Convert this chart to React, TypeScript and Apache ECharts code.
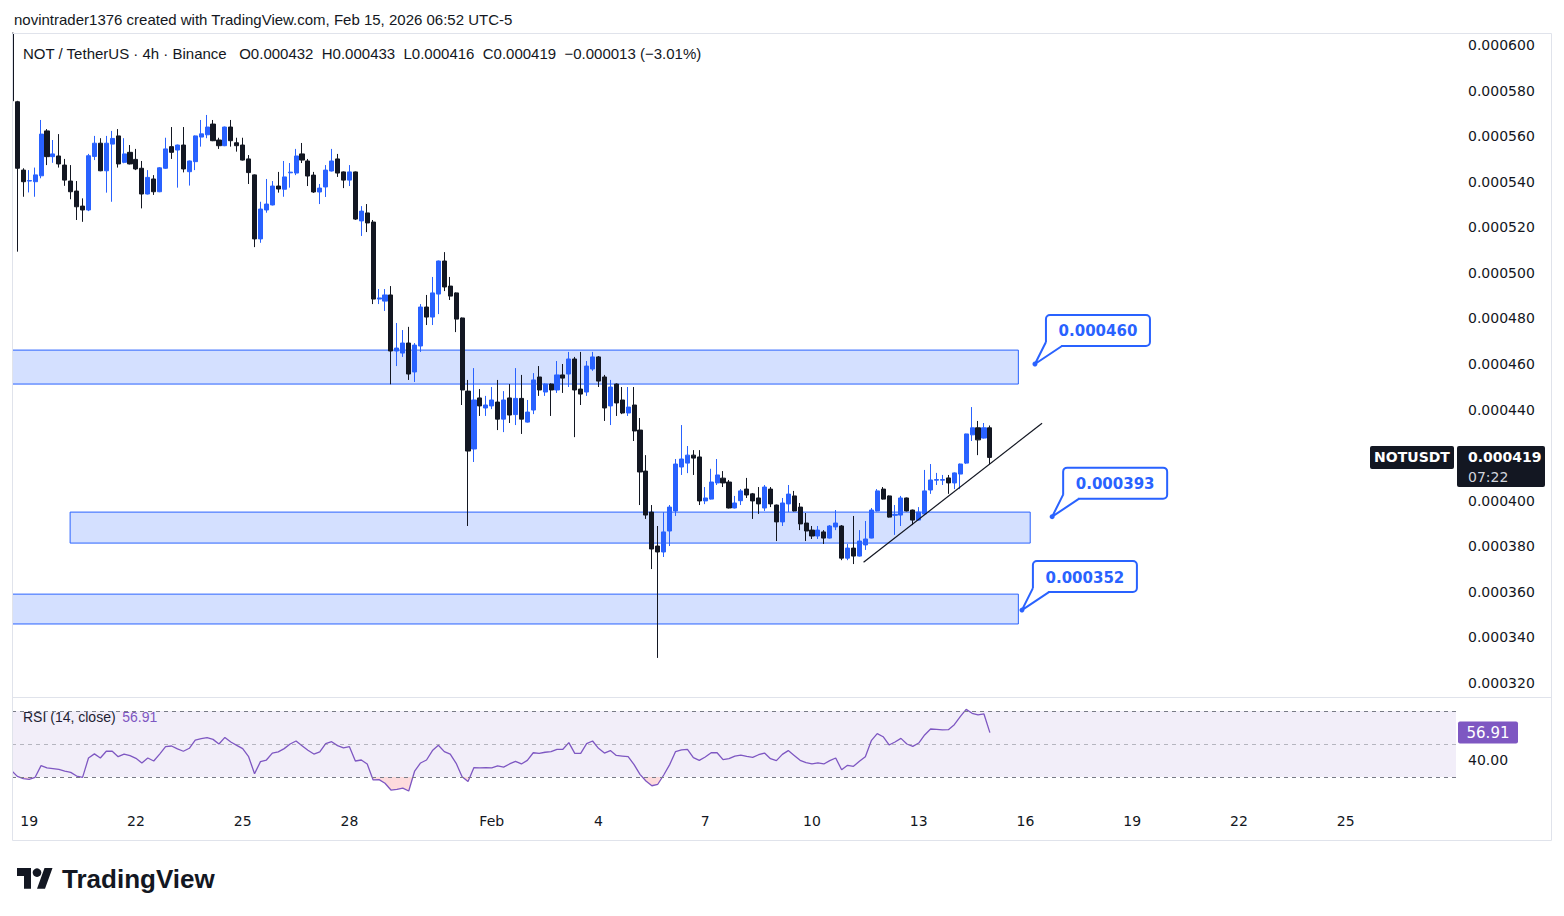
import React, { useEffect, useRef } from "react";
import * as echarts from "echarts";

// NOT / TetherUS, 4h bars (Binance). Prices are in millionths of USDT.
const barOpen = [
  605.2, 575.1, 545.1, 540.3, 540.0, 542.6, 562.3, 551.0, 551.3, 547.3,
  540.3, 535.9, 529.3, 527.6, 551.1, 556.9, 544.8, 556.5, 560.1, 548.5,
  552.9, 549.8, 545.9, 534.6, 541.2, 535.6, 545.9, 555.4, 553.9, 556.1,
  544.4, 548.8, 559.6, 560.6, 565.3, 558.3, 555.8, 564.0, 557.1, 556.1,
  550.0, 543.0, 514.9, 527.6, 529.8, 538.1, 536.7, 543.9, 543.8, 552.2,
  549.1, 542.9, 535.5, 537.7, 544.7, 550.0, 544.3, 540.7, 544.3, 522.8,
  526.3, 522.3, 488.5, 487.6, 490.3, 465.7, 464.8, 469.2, 456.5, 467.9,
  485.0, 480.6, 490.7, 505.2, 494.2, 491.2, 480.2, 448.1, 422.7, 445.1,
  440.7, 441.6, 443.3, 435.8, 445.1, 437.8, 444.9, 434.5, 439.8, 454.3,
  447.7, 451.2, 448.6, 455.2, 455.6, 462.2, 449.0, 447.7, 457.8, 463.1,
  454.3, 441.6, 451.2, 444.2, 438.5, 442.0, 431.0, 413.0, 395.0, 380.1,
  377.5, 386.7, 395.5, 414.8, 416.5, 420.0, 419.2, 399.9, 400.7, 407.8,
  409.9, 408.2, 396.8, 400.0, 405.1, 403.0, 401.2, 396.8, 405.1, 398.1,
  390.7, 398.6, 402.1, 397.2, 390.2, 387.1, 384.5, 386.3, 383.6, 388.5,
  388.9, 374.8, 379.2, 375.7, 380.6, 383.6, 395.5, 405.1, 402.1, 393.6,
  393.7, 401.2, 395.9, 391.5, 394.2, 404.7, 409.0, 409.0, 410.0, 407.8,
  411.7, 416.5, 428.9, 432.0, 427.5, 432.0,
];
const barHigh = [
  605.2, 575.5, 545.9, 545.1, 546.2, 567.1, 563.1, 558.3, 560.9, 550.0,
  547.3, 540.3, 532.7, 552.2, 560.1, 559.1, 560.1, 562.3, 563.1, 559.1,
  556.1, 554.4, 549.1, 545.1, 542.9, 546.4, 559.3, 564.0, 556.3, 564.0,
  549.3, 560.3, 567.1, 569.3, 567.1, 559.3, 564.2, 567.1, 559.3, 559.3,
  551.7, 543.2, 531.2, 541.2, 540.3, 544.3, 549.1, 548.2, 554.4, 557.0,
  550.0, 544.3, 539.0, 547.3, 554.4, 552.2, 544.5, 547.3, 544.5, 529.3,
  530.2, 523.2, 492.9, 492.9, 494.2, 478.0, 474.9, 476.3, 469.2, 486.3,
  490.3, 498.2, 505.4, 509.1, 498.2, 491.4, 480.4, 453.0, 458.2, 449.0,
  446.0, 449.9, 453.0, 448.1, 451.2, 458.2, 455.2, 444.2, 456.0, 459.1,
  451.5, 451.5, 461.3, 460.0, 465.3, 463.1, 465.3, 461.3, 465.3, 463.5,
  455.2, 453.0, 451.5, 449.9, 449.9, 449.9, 436.3, 420.0, 398.1, 388.9,
  395.0, 398.1, 418.3, 433.2, 424.0, 422.2, 422.2, 406.0, 414.0, 418.3,
  413.0, 409.1, 402.1, 405.1, 410.0, 403.4, 406.0, 406.9, 406.0, 398.3,
  401.2, 406.9, 404.3, 399.0, 394.6, 388.9, 388.9, 387.1, 389.3, 395.9,
  389.3, 381.0, 393.3, 387.1, 391.1, 396.8, 405.1, 406.0, 402.3, 398.1,
  402.1, 401.4, 396.1, 397.2, 413.5, 416.1, 412.2, 411.3, 411.3, 412.4,
  416.3, 429.4, 441.1, 435.0, 434.1, 433.0,
];
const barLow = [
  574, 509.3, 533.4, 535.3, 533.4, 541.5, 547.3, 548.3, 546.2, 538.2,
  532.3, 523.2, 522.4, 527.1, 549.5, 544.6, 535.2, 531.2, 546.2, 548.1,
  547.6, 545.1, 528.3, 534.4, 534.2, 535.4, 545.6, 550.0, 537.4, 544.1,
  538.3, 545.1, 555.4, 559.1, 557.8, 554.4, 555.6, 555.4, 553.2, 549.3,
  539.0, 511.3, 513.2, 526.4, 529.6, 535.2, 533.4, 537.4, 542.9, 548.2,
  538.1, 535.1, 530.2, 533.3, 544.5, 542.1, 537.2, 538.1, 523.2, 516.2,
  517.9, 486.3, 486.3, 483.3, 451.1, 459.1, 463.1, 453.0, 452.1, 465.3,
  477.1, 477.1, 481.9, 492.0, 488.1, 474.0, 442.0, 388.9, 417.0, 437.2,
  437.2, 440.2, 431.0, 430.1, 434.1, 433.2, 429.3, 434.3, 438.0, 446.0,
  446.0, 437.2, 447.3, 447.3, 449.9, 427.9, 442.0, 446.0, 457.0, 449.9,
  435.0, 433.2, 437.2, 438.0, 437.2, 426.2, 398.1, 392.0, 370.0, 331.0,
  375.3, 380.1, 393.3, 411.3, 412.1, 411.3, 398.1, 398.5, 400.5, 406.9,
  406.0, 396.6, 396.6, 398.1, 401.2, 392.0, 394.2, 395.5, 397.2, 382.3,
  388.9, 395.0, 395.3, 387.1, 382.3, 383.2, 383.2, 381.0, 383.4, 387.1,
  373.9, 373.9, 372.2, 375.5, 378.4, 383.5, 395.3, 400.5, 392.6, 385.0,
  388.9, 395.3, 389.3, 391.3, 393.7, 403.0, 406.9, 406.9, 403.0, 405.1,
  405.1, 416.1, 426.2, 420.0, 427.3, 416.0,
];
const barClose = [
  575.5, 545.9, 540.0, 540.5, 543.0, 560.9, 551.0, 552.2, 547.8, 540.7,
  535.6, 529.0, 527.6, 551.4, 556.9, 544.8, 556.9, 559.0, 547.8, 552.2,
  547.8, 545.6, 534.6, 541.9, 535.6, 546.1, 554.4, 552.9, 556.1, 545.6,
  549.1, 560.1, 561.0, 564.0, 558.0, 555.8, 564.0, 558.0, 555.8, 549.5,
  544.0, 514.9, 528.0, 530.2, 538.1, 536.8, 542.1, 544.2, 551.3, 549.5,
  542.5, 535.5, 537.2, 545.1, 549.1, 543.8, 540.7, 544.3, 523.6, 527.1,
  521.9, 488.5, 489.0, 490.3, 465.7, 467.0, 469.2, 455.6, 468.3, 485.0,
  480.6, 491.2, 505.2, 493.8, 489.8, 479.7, 448.6, 421.8, 444.2, 441.6,
  442.0, 444.2, 435.8, 444.2, 437.6, 444.9, 435.8, 438.9, 453.0, 448.6,
  451.2, 448.6, 455.2, 453.8, 462.2, 448.6, 446.8, 459.1, 463.1, 452.5,
  440.7, 449.9, 442.9, 438.5, 441.1, 430.6, 412.6, 393.7, 378.8, 377.5,
  386.3, 397.2, 416.1, 418.3, 420.0, 418.7, 399.9, 401.2, 408.2, 411.3,
  407.8, 396.8, 399.0, 404.3, 402.5, 399.9, 398.6, 406.0, 398.6, 390.7,
  399.0, 402.9, 395.5, 389.8, 386.7, 384.5, 387.1, 383.6, 388.9, 390.2,
  374.8, 379.2, 375.7, 382.3, 383.2, 395.9, 404.3, 400.7, 392.8, 394.0,
  401.2, 395.5, 391.5, 395.0, 404.3, 409.1, 409.3, 409.3, 407.8, 412.2,
  416.1, 429.3, 432.0, 426.7, 432.0, 419.0,
];
// RSI(14, close), one value per bar
const rsi14 = [
  34.0, 30.4, 29.0, 28.6, 29.8, 36.9, 35.5, 35.1, 34.6, 33.6,
  32.8, 30.6, 29.8, 41.5, 44.0, 41.5, 45.6, 45.6, 42.3, 43.9,
  42.9, 41.3, 38.5, 41.5, 39.7, 43.9, 48.4, 48.8, 47.0, 45.6,
  47.4, 52.4, 53.2, 53.8, 52.8, 50.0, 54.0, 51.2, 49.2, 47.2,
  42.3, 32.0, 39.3, 40.3, 44.5, 45.2, 47.2, 50.0, 51.8, 49.0,
  46.2, 43.9, 45.2, 50.2, 51.4, 49.0, 47.6, 48.4, 39.7, 40.3,
  37.9, 28.2, 28.4, 26.2, 22.1, 22.5, 23.3, 21.5, 33.6, 38.5,
  40.3, 46.0, 49.2, 45.4, 43.9, 38.3, 30.2, 27.2, 35.7, 35.5,
  35.7, 35.5, 36.7, 36.0, 37.9, 39.5, 37.9, 40.1, 44.7, 44.3,
  45.0, 45.4, 46.8, 46.8, 50.8, 44.3, 44.3, 50.2, 51.8, 47.4,
  44.5, 46.0, 43.1, 42.7, 42.3, 37.5, 31.6, 27.6, 24.7, 25.6,
  31.2, 37.5, 45.4, 46.4, 46.8, 41.7, 40.1, 42.1, 44.7, 44.7,
  40.5, 41.1, 42.7, 43.3, 42.5, 41.9, 43.5, 44.5, 41.1, 39.9,
  43.7, 46.0, 43.1, 40.1, 38.7, 37.9, 38.5, 37.9, 39.9, 41.5,
  34.4, 37.1, 36.5, 39.5, 42.3, 52.0, 56.3, 54.4, 49.4, 51.2,
  53.4, 50.0, 48.6, 50.6, 55.5, 59.1, 58.9, 58.5, 58.7, 61.7,
  66.6, 71.0, 68.6, 67.6, 68.2, 56.91,
];

// Time axis
const FIRST_BAR_TIME = Date.UTC(2026, 0, 18, 12);
const X_ORIGIN_TIME = Date.UTC(2026, 0, 18, 16);
const BAR_MS = 4 * 3600 * 1000;
const xTickDates = [
  "2026-01-19", "2026-01-22", "2026-01-25", "2026-01-28", "2026-02-01",
  "2026-02-04", "2026-02-07", "2026-02-10", "2026-02-13", "2026-02-16",
  "2026-02-19", "2026-02-22", "2026-02-25",
];
const xTickLabels = ["19", "22", "25", "28", "Feb", "4", "7", "10", "13", "16", "19", "22", "25"];

// Price scale labels (millionths); the level under the last-price tag is left out
const priceTicks = [320, 340, 360, 380, 400, 440, 460, 480, 500, 520, 540, 560, 580, 600];
const rsiTicks = [40];
const rsiLevels = [70, 50, 30];

// Drawn support / resistance zones (bar position, price in millionths)
const zoneStartBar = [-0.9, 8.9, -0.9];
const zoneEndBar = [168.8, 170.8, 168.8];
const zoneHigh = [466.1, 395.0, 359.0];
const zoneLow = [451.2, 381.4, 345.9];

// Price callouts
const calloutBar = [171.6, 174.5, 169.4];
const calloutPrice = [460, 393, 352];

// Rising trend line
const trendBar = [142.7, 172.8];
const trendPrice = [373.0, 434.0];

const SYMBOL = "NOTUSDT";
const COUNTDOWN = "07:22";

const UP = "#2962ff";
const DOWN = "#131722";
const TEXT = "#131722";
const BORDER = "#e0e3eb";
const RSI_COLOR = "#7e57c2";
const UI_FONT = '"Liberation Sans", Arial, sans-serif';
const SCALE_FONT = '"DejaVu Sans", sans-serif';

const M = 1e-6;
const barTime = (j: number) => FIRST_BAR_TIME + j * BAR_MS;
const timeToX = (t: number) => (t - X_ORIGIN_TIME) / BAR_MS;
const barX = (j: number) => timeToX(barTime(j));
const xTickPos = xTickDates.map((d) => timeToX(Date.parse(d)));

echarts.graphic.registerShape(
  "tvLogo",
  echarts.graphic.extendPath("M14 22H7V11H0V4h14v18zM28 22h-8l7.5-18h8L28 22z", {})
);

const X_MIN = -0.9;
const X_MAX = 242.6;

// Part of the RSI segment j..j+1 lying beyond a level (below when `below` is true)
function beyondLevel(a: number, b: number, level: number, below: boolean): [number, number][] | null {
  const out = (v: number) => (below ? v < level : v > level);
  const oa = out(a), ob = out(b);
  if (!oa && !ob) return null;
  if (oa && ob) return [[0, a], [1, b], [1, level], [0, level]];
  const t = (level - a) / (b - a);
  if (oa) return [[0, a], [t, level], [0, level]];
  return [[t, level], [1, b], [1, level]];
}

export default function App() {
  const ref = useRef<HTMLDivElement>(null);

  useEffect(() => {
    if (!ref.current) return;
    const chart = echarts.init(ref.current, undefined, { renderer: "svg" });

    const candles = barOpen.map((o, j) => [
      barX(j),
      o * M,
      barClose[j] * M,
      barLow[j] * M,
      barHigh[j] * M,
    ]);
    const rsiLine = rsi14.map((v, j) => [barX(j), v]);
    const rsiSegments = rsi14.slice(0, -1).map((v, j) => [barX(j), v, barX(j + 1), rsi14[j + 1]]);
    const zones = zoneStartBar.map((s, i) => [s, zoneEndBar[i], zoneHigh[i] * M, zoneLow[i] * M]);
    const callouts = calloutBar.map((b, i) => [b, calloutPrice[i] * M]);
    const trend = trendBar.map((b, i) => [b, trendPrice[i] * M]);

    const n = barClose.length;
    const lastO = barOpen[n - 1] * M;
    const lastH = barHigh[n - 1] * M;
    const lastL = barLow[n - 1] * M;
    const lastC = barClose[n - 1] * M;
    const prevC = barClose[n - 2] * M;
    const chg = lastC - prevC;
    const pct = (chg / prevC) * 100;
    const sign = (v: number) => (v < 0 ? "\u2212" : "+");
    const lastRsi = rsi14[rsi14.length - 1];

    const option: any = {
      animation: false,
      backgroundColor: "#ffffff",
      grid: [
        { left: 12, right: 108, top: 33, bottom: 219 },
        { left: 12, right: 108, top: 697, bottom: 109 },
      ],
      xAxis: [
        {
          type: "value", gridIndex: 0, min: X_MIN, max: X_MAX,
          axisLine: { show: false }, axisTick: { show: false },
          axisLabel: { show: false }, splitLine: { show: false },
        },
        {
          type: "value", gridIndex: 1, min: X_MIN, max: X_MAX,
          axisLine: { show: false }, axisTick: { show: false }, splitLine: { show: false },
          axisLabel: {
            customValues: xTickPos,
            margin: 7,
            color: TEXT,
            fontSize: 14,
            fontFamily: SCALE_FONT,
            formatter: (v: number) => {
              const k = xTickPos.findIndex((p) => Math.abs(p - v) < 1e-6);
              return k >= 0 ? xTickLabels[k] : "";
            },
          },
        },
      ],
      yAxis: [
        {
          type: "value", gridIndex: 0, position: "right",
          min: 313.85 * M, max: 605.27 * M,
          axisLine: { show: false }, axisTick: { show: false }, splitLine: { show: false },
          axisLabel: {
            customValues: priceTicks.map((p) => p * M),
            margin: 12,
            color: TEXT,
            fontSize: 14,
            fontFamily: SCALE_FONT,
            formatter: (v: number) => v.toFixed(6),
          },
        },
        {
          type: "value", gridIndex: 1, position: "right",
          min: 11.818, max: 78.485,
          axisLine: { show: false }, axisTick: { show: false }, splitLine: { show: false },
          axisLabel: {
            customValues: rsiTicks,
            margin: 12,
            color: TEXT,
            fontSize: 14,
            fontFamily: SCALE_FONT,
            formatter: (v: number) => v.toFixed(2),
          },
        },
      ],
      series: [
        {
          type: "custom",
          name: "zones",
          xAxisIndex: 0, yAxisIndex: 0,
          z: 1, silent: true,
          data: zones,
          encode: { x: [0, 1], y: [2, 3] },
          renderItem: (_p: any, api: any) => {
            const a = api.coord([api.value(0), api.value(2)]);
            const b = api.coord([api.value(1), api.value(3)]);
            return {
              type: "rect",
              shape: { x: a[0], y: a[1], width: b[0] - a[0], height: b[1] - a[1] },
              style: { fill: "rgba(41,98,255,0.2)", stroke: UP, lineWidth: 1 },
            };
          },
        },
        {
          type: "candlestick",
          name: "NOTUSDT",
          xAxisIndex: 0, yAxisIndex: 0,
          z: 3,
          clip: true,
          barWidth: 4.6,
          data: candles,
          encode: { x: 0, y: [1, 2, 3, 4] },
          itemStyle: {
            color: UP, color0: DOWN, borderColor: UP, borderColor0: DOWN, borderWidth: 1,
          },
          markLine: {
            silent: true,
            symbol: ["none", "none"],
            label: { show: false },
            lineStyle: { color: TEXT, type: [1, 3], width: 1 },
            data: [{ yAxis: lastC }],
          },
        },
        {
          type: "line",
          name: "trend",
          xAxisIndex: 0, yAxisIndex: 0,
          z: 4,
          data: trend,
          showSymbol: false,
          silent: true,
          lineStyle: { color: "#131722", width: 1.2 },
        },
        {
          type: "custom",
          name: "callouts",
          xAxisIndex: 0, yAxisIndex: 0,
          z: 5, silent: true,
          data: callouts,
          encode: { x: 0, y: 1 },
          renderItem: (_p: any, api: any) => {
            const v = api.value(1) as number;
            const [ax, ay] = api.coord([api.value(0), v]);
            const W = 104, H = 31;
            const L = ax + 11, T = ay - 49, B = T + H;
            return {
              type: "group",
              children: [
                {
                  type: "rect",
                  shape: { x: L, y: T, width: W, height: H, r: 4 },
                  style: { fill: "#ffffff", stroke: UP, lineWidth: 2 },
                },
                {
                  type: "polygon",
                  shape: { points: [[L + 1.5, B - 4], [L + 15, B - 1.5], [L + 15, B + 1.5], [L + 1.5, B + 1.5]] },
                  style: { fill: "#ffffff" },
                },
                {
                  type: "polyline",
                  shape: { points: [[L, B - 4], [ax, ay], [L + 16, B]] },
                  style: { fill: "#ffffff", stroke: UP, lineWidth: 2, lineJoin: "round" },
                },
                {
                  type: "circle",
                  shape: { cx: ax, cy: ay, r: 2.5 },
                  style: { fill: UP },
                },
                {
                  type: "text",
                  style: {
                    text: v.toFixed(6),
                    x: L + W / 2, y: T + H / 2 + 1,
                    align: "center", verticalAlign: "middle",
                    fill: UP, font: `bold 15px ${SCALE_FONT}`,
                  },
                },
              ],
            };
          },
        },
        {
          // oversold / overbought shading of the RSI
          type: "custom",
          name: "RSI zones",
          xAxisIndex: 1, yAxisIndex: 1,
          z: 2, silent: true,
          data: rsiSegments,
          encode: { x: [0, 2], y: [1, 3] },
          renderItem: (_p: any, api: any) => {
            const x0 = api.value(0), a = api.value(1), x1 = api.value(2), b = api.value(3);
            const parts: any[] = [];
            const low = beyondLevel(a, b, rsiLevels[2], true);
            const high = beyondLevel(a, b, rsiLevels[0], false);
            const toPts = (pts: [number, number][]) =>
              pts.map(([t, v]) => api.coord([x0 + t * (x1 - x0), v]));
            if (low) parts.push({ type: "polygon", shape: { points: toPts(low) }, style: { fill: "rgba(242,54,69,0.18)" } });
            if (high) parts.push({ type: "polygon", shape: { points: toPts(high) }, style: { fill: "rgba(8,153,129,0.18)" } });
            return { type: "group", children: parts };
          },
        },
        {
          type: "line",
          name: "RSI",
          xAxisIndex: 1, yAxisIndex: 1,
          z: 3,
          data: rsiLine,
          showSymbol: false,
          silent: true,
          lineStyle: { color: RSI_COLOR, width: 1.3 },
          markArea: {
            silent: true,
            itemStyle: { color: "rgba(126,87,194,0.1)" },
            data: [[{ yAxis: rsiLevels[2] }, { yAxis: rsiLevels[0] }]],
          },
          markLine: {
            silent: true,
            symbol: ["none", "none"],
            label: { show: false },
            data: [
              { yAxis: rsiLevels[0], lineStyle: { color: "#787b86", type: [4, 4], width: 1 } },
              { yAxis: rsiLevels[1], lineStyle: { color: "rgba(120,123,134,0.5)", type: [4, 4], width: 1 } },
              { yAxis: rsiLevels[2], lineStyle: { color: "#787b86", type: [4, 4], width: 1 } },
            ],
          },
        },
      ],
    };

    chart.setOption(option);

    const yLast = chart.convertToPixel({ yAxisIndex: 0 }, lastC) as number;
    const yRsi = chart.convertToPixel({ yAxisIndex: 1 }, lastRsi) as number;

    const legend =
      `NOT / TetherUS \u00b7 4h \u00b7 Binance   O${lastO.toFixed(6)}  H${lastH.toFixed(6)}  ` +
      `L${lastL.toFixed(6)}  C${lastC.toFixed(6)}  ${sign(chg)}${Math.abs(chg).toFixed(6)} ` +
      `(${sign(pct)}${Math.abs(pct).toFixed(2)}%)`;

    chart.setOption({
      graphic: [
        // white margin left of the plot, keeps the partly visible first bar inside the pane
        {
          type: "rect", z: 10, silent: true,
          shape: { x: 0, y: 25, width: 12, height: 800 },
          style: { fill: "#ffffff" },
        },
        {
          type: "rect", z: 11, silent: true,
          shape: { x: 12.5, y: 33.5, width: 1539, height: 807 },
          style: { fill: "none", stroke: BORDER, lineWidth: 1 },
        },
        {
          type: "line", z: 0, silent: true,
          shape: { x1: 12, y1: 697.5, x2: 1552, y2: 697.5 },
          style: { stroke: BORDER, lineWidth: 1 },
        },
        {
          type: "text", silent: true, x: 14, y: 19,
          style: {
            text: "novintrader1376 created with TradingView.com, Feb 15, 2026 06:52 UTC-5",
            font: `15px ${UI_FONT}`, fill: TEXT, verticalAlign: "middle",
          },
        },
        {
          type: "text", silent: true, x: 23, y: 53,
          style: { text: legend, font: `15px ${UI_FONT}`, fill: TEXT, verticalAlign: "middle" },
        },
        {
          type: "text", silent: true, x: 23, y: 717,
          style: {
            text: `{a|RSI (14, close)}  {b|${lastRsi.toFixed(2)}}`,
            verticalAlign: "middle",
            rich: {
              a: { font: `14px ${UI_FONT}`, fill: TEXT },
              b: { font: `14px ${UI_FONT}`, fill: RSI_COLOR },
            },
          },
        },
        // last price tags on the price scale
        {
          type: "rect", silent: true,
          shape: { x: 1370, y: yLast - 11.5, width: 84, height: 23, r: 2 },
          style: { fill: "#131722" },
        },
        {
          type: "text", silent: true, x: 1412, y: yLast,
          style: {
            text: SYMBOL, font: `bold 14px ${SCALE_FONT}`, fill: "#ffffff",
            align: "center", verticalAlign: "middle",
          },
        },
        {
          type: "rect", silent: true,
          shape: { x: 1457, y: yLast - 11.5, width: 88, height: 41, r: 2 },
          style: { fill: "#131722" },
        },
        {
          type: "text", silent: true, x: 1468, y: yLast,
          style: {
            text: lastC.toFixed(6), font: `bold 14px ${SCALE_FONT}`, fill: "#ffffff",
            verticalAlign: "middle",
          },
        },
        {
          type: "text", silent: true, x: 1468, y: yLast + 20,
          style: {
            text: COUNTDOWN, font: `14px ${SCALE_FONT}`, fill: "#d1d4dc",
            verticalAlign: "middle",
          },
        },
        // RSI value tag
        {
          type: "rect", silent: true,
          shape: { x: 1458, y: yRsi - 11, width: 60, height: 22, r: 2 },
          style: { fill: RSI_COLOR },
        },
        {
          type: "text", silent: true, x: 1488, y: yRsi,
          style: {
            text: lastRsi.toFixed(2), font: `15px ${SCALE_FONT}`, fill: "#ffffff",
            align: "center", verticalAlign: "middle",
          },
        },
        // TradingView mark
        {
          type: "tvLogo", silent: true, x: 17, y: 863.4, scaleX: 1, scaleY: 1.15,
          style: { fill: TEXT },
        },
        {
          type: "circle", silent: true,
          shape: { cx: 37, cy: 872.6, r: 4.3 },
          style: { fill: TEXT },
        },
        {
          type: "text", silent: true, x: 62, y: 879,
          style: {
            text: "TradingView", font: `bold 26px ${UI_FONT}`, fill: TEXT,
            verticalAlign: "middle",
          },
        },
      ],
    });

    return () => chart.dispose();
  }, []);

  return (
    <div
      ref={ref}
      style={{ position: "fixed", left: 0, top: 0, width: 1564, height: 916, background: "#ffffff" }}
    />
  );
}
